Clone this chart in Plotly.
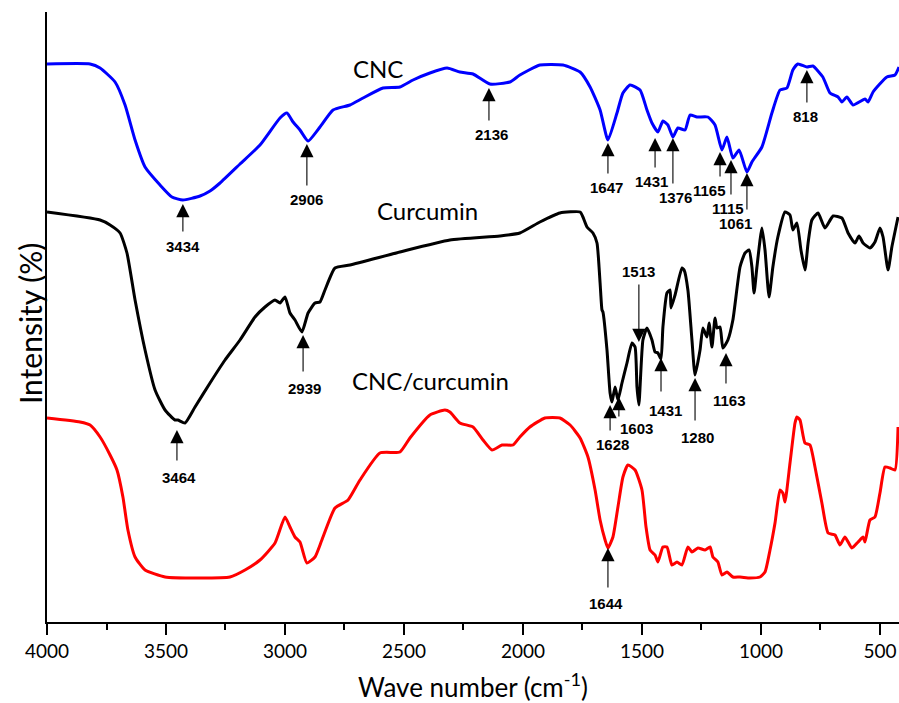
import plotly.graph_objects as go

# ---- CNC (blue) ----
cnc_wn = [4000, 3819, 3777, 3714, 3672, 3630, 3588, 3525, 3475, 3429, 3357, 3315, 3273, 3189, 3105,
          3021, 2992, 2966, 2937, 2903, 2853, 2798, 2727, 2672, 2588, 2517, 2462, 2391, 2319, 2265,
          2210, 2139, 2055, 2013, 1929, 1832, 1760, 1718, 1676, 1643, 1605, 1580, 1550, 1508, 1479,
          1458, 1433, 1412, 1391, 1370, 1349, 1319, 1298, 1269, 1223, 1193, 1164, 1143, 1118, 1092,
          1059, 1038, 996, 954, 920, 891, 866, 845, 807, 782, 740, 710, 676, 660, 639, 613, 563,
          550, 529, 471, 437, 420]
cnc_y = [558, 558, 554, 540, 517, 482, 455, 437, 425, 422, 426, 431, 439, 458, 477,
         504, 509, 500, 492, 481, 495, 512, 517, 524, 534, 535, 542, 549, 554, 550,
         548, 538, 540, 547, 557, 557, 550, 535, 512, 482, 509, 529, 537, 532, 512,
         499, 490, 501, 497, 485, 494, 492, 507, 505, 505, 497, 472, 485, 464, 472,
         450, 460, 475, 509, 532, 534, 552, 558, 555, 556, 545, 529, 525, 520, 525, 517, 523,
         520, 530, 545, 547, 555]

# ---- Curcumin (black) ----
cur_wn = [4000, 3777, 3735, 3693, 3664, 3630, 3588, 3546, 3504, 3462, 3450, 3420, 3378, 3315, 3252,
          3189, 3126, 3084, 3042, 3021, 3000, 2979, 2958, 2929, 2903, 2874, 2853, 2832, 2790, 2727,
          2517, 2307, 2097, 2013, 1929, 1845, 1760, 1748, 1731, 1706, 1689, 1676, 1668, 1664, 1647,
          1634, 1626, 1613, 1601, 1584, 1563, 1542, 1529, 1521, 1513, 1496, 1479, 1458, 1445, 1433,
          1420, 1412, 1395, 1382, 1378, 1361, 1332, 1323, 1307, 1290, 1277, 1256, 1244, 1227, 1218,
          1206, 1193, 1185, 1172, 1160, 1139, 1118, 1088, 1067, 1050, 1038, 1029, 1017, 996, 983,
          966, 950, 929, 899, 878, 866, 849, 832, 815, 802, 786, 760, 731, 697, 660, 634, 605,
          588, 571, 542, 521, 500, 487, 466, 450, 424]
cur_y = [410, 402, 397, 389, 369, 322, 272, 232, 212, 202, 202, 199, 215, 239, 262,
         282, 305, 315, 322, 319, 325, 309, 302, 290, 309, 319, 320, 332, 354, 357,
         370, 382, 386, 389, 400, 409, 410, 405, 395, 389, 379, 339, 312, 310, 272,
         229, 220, 235, 222, 239, 259, 279, 275, 235, 217, 282, 294, 282, 270, 269,
         263, 295, 329, 332, 314, 327, 354, 352, 332, 282, 247, 272, 294, 285, 299,
         275, 304, 294, 295, 274, 282, 302, 355, 369, 372, 355, 329, 355, 394, 372,
         325, 355, 385, 410, 407, 392, 399, 372, 352, 379, 402, 409, 394, 406, 404, 389, 379,
         386, 379, 374, 380, 394, 385, 352, 375, 405]

# ---- CNC/curcumin (red) ----
mix_wn = [4000, 3861, 3819, 3777, 3735, 3706, 3681, 3660, 3630, 3588, 3504, 3357, 3231, 3168, 3105,
          3042, 3000, 2979, 2958, 2937, 2908, 2874, 2845, 2790, 2735, 2685, 2601, 2517, 2475, 2391,
          2328, 2307, 2265, 2210, 2168, 2130, 2088, 2042, 2013, 1971, 1908, 1845, 1802, 1760, 1727,
          1697, 1676, 1655, 1643, 1622, 1601, 1580, 1559, 1529, 1500, 1483, 1466, 1445, 1433, 1412,
          1395, 1374, 1353, 1332, 1307, 1290, 1265, 1235, 1214, 1202, 1181, 1164, 1143, 1118, 1088,
          1046, 1004, 983, 962, 941, 920, 908, 899, 878, 857, 849, 836, 815, 794, 773, 744, 718,
          689, 668, 647, 618, 592, 571, 563, 542, 521, 500, 479, 458, 437, 424]
mix_y = [204, 200, 197, 185, 167, 152, 125, 92, 65, 52, 45, 44, 45, 52, 62,
         79, 105, 95, 85, 80, 59, 65, 82, 114, 122, 142, 169, 170, 184, 207,
         212, 210, 199, 195, 182, 172, 177, 177, 185, 195, 204, 204, 197, 184, 165,
         132, 102, 82, 74, 85, 115, 145, 157, 152, 132, 95, 72, 67, 60, 75,
         75, 57, 60, 57, 75, 70, 74, 72, 75, 65, 60, 47, 50, 45, 45,
         44, 45, 50, 72, 99, 132, 129, 120, 159, 199, 205, 202, 179, 177, 155, 119, 89,
         87, 77, 85, 74, 80, 85, 80, 102, 105, 129, 155, 154, 152, 195]

# ---- peak annotations: label, tip (wn, y), tail y, text (wn, y) ----
peak_labels = ["3434", "2906", "2136", "1647", "1431", "1376", "1165", "1115", "1061", "818",
               "3464", "2939", "1628", "1603", "1513", "1431", "1280", "1163", "1644"]
tip_wn = [3429, 2908, 2143, 1643, 1445, 1370, 1172, 1126, 1059, 807,
          3454, 2924, 1634, 1597, 1513, 1420, 1277, 1147, 1643]
tip_y = [418, 478, 534, 479, 484, 484, 470, 462, 449, 552,
         192, 287, 217, 225, 280, 264, 244, 269, 74]
tail_y = [389, 435, 500, 447, 453, 437, 444, 426, 411, 518,
          160, 249, 190, 204, 339, 229, 200, 237, 33]
text_wn = [3429, 2908, 2134, 1651, 1458, 1361, 1218, 1139, 1109, 811,
           3445, 2916, 1622, 1521, 1513, 1403, 1265, 1134, 1651]
text_y = [376, 423, 488, 435, 441, 425, 432, 414, 399, 506,
          145, 234, 178, 194, 351, 212, 185, 222, 19]

series_names = ["CNC", "Curcumin", "CNC/curcumin"]
series_colors = ["#0000ff", "#000000", "#ff0000"]
name_pos_wn = [2609, 2403, 2387]
name_pos_y = [554, 412, 242]

fig = go.Figure()
for wn, y, c, n in [(cnc_wn, cnc_y, series_colors[0], series_names[0]),
                    (cur_wn, cur_y, series_colors[1], series_names[1]),
                    (mix_wn, mix_y, series_colors[2], series_names[2])]:
    fig.add_trace(go.Scatter(x=wn, y=y, mode="lines", name=n,
                             line=dict(color=c, width=3, shape="spline", smoothing=0.5)))

annotations = []
for lab, tw, ty, tly, xw, xy in zip(peak_labels, tip_wn, tip_y, tail_y, text_wn, text_y):
    annotations.append(dict(x=tw, y=ty, ax=tw, ay=tly, axref="x", ayref="y", xref="x", yref="y",
                            text="", showarrow=True, arrowhead=2, arrowsize=2.4, arrowwidth=1.1,
                            arrowcolor="black", standoff=0, startstandoff=0))
    annotations.append(dict(x=xw, y=xy, xref="x", yref="y", text="<b>%s</b>" % lab, showarrow=False,
                            font=dict(family="Liberation Sans, Arial", size=15, color="black")))
for n, xw, yy in zip(series_names, name_pos_wn, name_pos_y):
    annotations.append(dict(x=xw, y=yy, xref="x", yref="y", text=n, showarrow=False,
                            font=dict(family="Lato, Open Sans", size=24, color="black")))
annotations.append(dict(x=0.5, y=-0.104, xref="paper", yref="paper", xanchor="center", yanchor="middle",
                        text="Wave number (cm<sup>-1</sup>)", showarrow=False,
                        font=dict(family="Lato, Open Sans", size=26, color="black")))
annotations.append(dict(x=-0.02, y=0.49, xref="paper", yref="paper", xanchor="center", yanchor="middle",
                        text="Intensity (%)", textangle=-90, showarrow=False,
                        font=dict(family="Lato, Open Sans", size=30, color="black")))

fig.update_layout(
    width=899, height=703,
    margin=dict(l=47, r=0, t=12, b=81),
    plot_bgcolor="white", paper_bgcolor="white",
    showlegend=False,
    annotations=annotations,
    xaxis=dict(range=[4000, 420], showgrid=False, zeroline=False,
               showline=True, linecolor="black", linewidth=2,
               ticks="outside", ticklen=11, tickwidth=2, tickcolor="black",
               tickvals=[4000, 3500, 3000, 2500, 2000, 1500, 1000, 500],
               tickfont=dict(family="Lato, Open Sans", size=19, color="black"),
               minor=dict(ticks="outside", ticklen=6, tickwidth=2, tickcolor="black",
                          tickvals=[3750, 3250, 2750, 2250, 1750, 1250, 750])),
    yaxis=dict(range=[0, 610], showgrid=False, zeroline=False,
               showline=True, linecolor="black", linewidth=2,
               showticklabels=False, ticks=""),
)

fig.write_html("out.html")
